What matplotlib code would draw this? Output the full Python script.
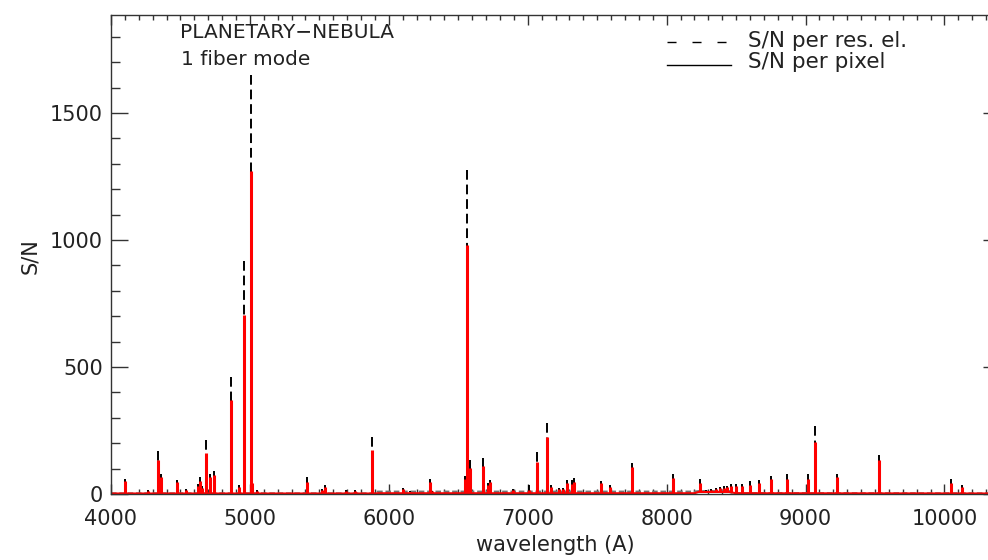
import numpy as np
import matplotlib
matplotlib.use('Agg')
import matplotlib.pyplot as plt
from matplotlib.lines import Line2D
from matplotlib.ticker import MultipleLocator

# lineas de emision: longitud de onda (A), S/N por pixel, S/N por elemento de resolucion
lineas_wave = [4101, 4269, 4340, 4363, 4472, 4541, 4628, 4640, 4658, 4686, 4711, 4740,
               4861, 4921, 4959, 5007, 5015, 5048, 5411, 5518, 5538, 5695, 5755, 5876,
               6100, 6155, 6300, 6312, 6548, 6563, 6583, 6678, 6717, 6731, 6891, 7006,
               7065, 7136, 7170, 7226, 7254, 7281, 7320, 7330, 7530, 7590, 7751, 8046,
               8237, 8286, 8322, 8353, 8381, 8410, 8434, 8467, 8502, 8545, 8598, 8665,
               8750, 8863, 9015, 9069, 9229, 9531, 10049, 10124]
sn_pixel = [52, 12, 134, 68, 47, 16, 32, 51, 24, 161, 68, 75,
            370, 29, 705, 1270, 43, 12, 48, 14, 28, 12, 12, 173,
            18, 9, 47, 10, 60, 982, 104, 112, 36, 49, 16, 16,
            127, 226, 28, 18, 20, 43, 40, 48, 43, 28, 106, 63,
            45, 12, 15, 18, 22, 24, 26, 30, 32, 32, 36, 43,
            59, 59, 59, 205, 67, 134, 43, 29]
sn_resel = [60, 15, 169, 79, 55, 20, 40, 68, 30, 213, 80, 90,
            460, 36, 918, 1650, 55, 15, 68, 18, 35, 15, 15, 224,
            24, 12, 58, 13, 70, 1276, 134, 141, 45, 55, 20, 35,
            167, 281, 35, 23, 25, 55, 55, 63, 51, 35, 123, 79,
            59, 15, 19, 23, 28, 30, 33, 40, 40, 41, 52, 55,
            72, 79, 79, 268, 79, 154, 59, 37]

# continuo
cont_wave = [4000, 5900, 5920, 8200, 8230, 8450, 8500, 10400]
cont_pixel = [2, 2, 3, 3, 8, 8, 3, 2]
cont_resel = [1, 1, 8, 8, 10, 10, 2, 1]

colortexto = '#222222'
fig = plt.figure(figsize=(9.88, 5.6), dpi=100)
ax = fig.add_axes([111/988, 1-494/560, 889/988, 479/560])

# S/N por elemento de resolucion (rayado, desde el pico hacia abajo) y por pixel (rojo)
base_res = np.interp(lineas_wave, cont_wave, cont_resel)
base_pix = np.interp(lineas_wave, cont_wave, cont_pixel)
ax.plot(cont_wave, cont_resel, color='0.45', lw=2, dashes=(2, 1))
ax.vlines(lineas_wave, sn_resel, base_res, colors='black', lw=1.4, linestyles=(0, (5, 2.5)))
ax.plot(cont_wave, cont_pixel, color='red', lw=1.5)
ax.vlines(lineas_wave, base_pix, sn_pixel, colors='red', lw=2.2)

ax.set_xlim(4000, 10400)
ax.set_ylim(0, 1886)
ax.set_xticks(np.arange(4000, 10001, 1000))
ax.set_yticks(np.arange(0, 1501, 500))
ax.xaxis.set_minor_locator(MultipleLocator(100))
ax.yaxis.set_minor_locator(MultipleLocator(100))
ax.tick_params(which='both', direction='in', top=True, right=True, color='#333333',
               labelsize=15, labelcolor=colortexto)
ax.tick_params(axis='x', which='major', length=7.2, width=1, pad=11)
ax.tick_params(axis='x', which='minor', length=3.5, width=1)
ax.tick_params(axis='y', which='major', length=12, width=1, pad=6)
ax.tick_params(axis='y', which='minor', length=6.5, width=1)
for s in ax.spines.values():
    s.set_color('#333333')
    s.set_linewidth(1)

fig.text(555/988, 1-545/560, 'wavelength (A)', ha='center', va='center', fontsize=15, color=colortexto)
fig.text(30/988, 1-256/560, 'S/N', ha='center', va='center', rotation=90, fontsize=15, color=colortexto)

fig.text(180/988, 1-38/560, 'PLANETARY\u2212NEBULA', ha='left', va='baseline', fontsize=14.5, color=colortexto)
fig.text(181/988, 1-65/560, '1 fiber mode', ha='left', va='baseline', fontsize=14.5, color=colortexto)

# leyenda a mano, estilo IDL
fig.add_artist(Line2D([667/988, 727/988], [1-42/560]*2, transform=fig.transFigure,
                      color='black', lw=1, dashes=(6.5, 11.5)))
fig.add_artist(Line2D([667/988, 731/988], [1-65/560]*2, transform=fig.transFigure,
                      color='black', lw=1))
fig.text(748/988, 1-47/560, 'S/N per res. el.', ha='left', va='baseline', fontsize=15.5, color=colortexto)
fig.text(748/988, 1-68/560, 'S/N per pixel', ha='left', va='baseline', fontsize=15.5, color=colortexto)

fig.savefig('out.png', dpi=100)
